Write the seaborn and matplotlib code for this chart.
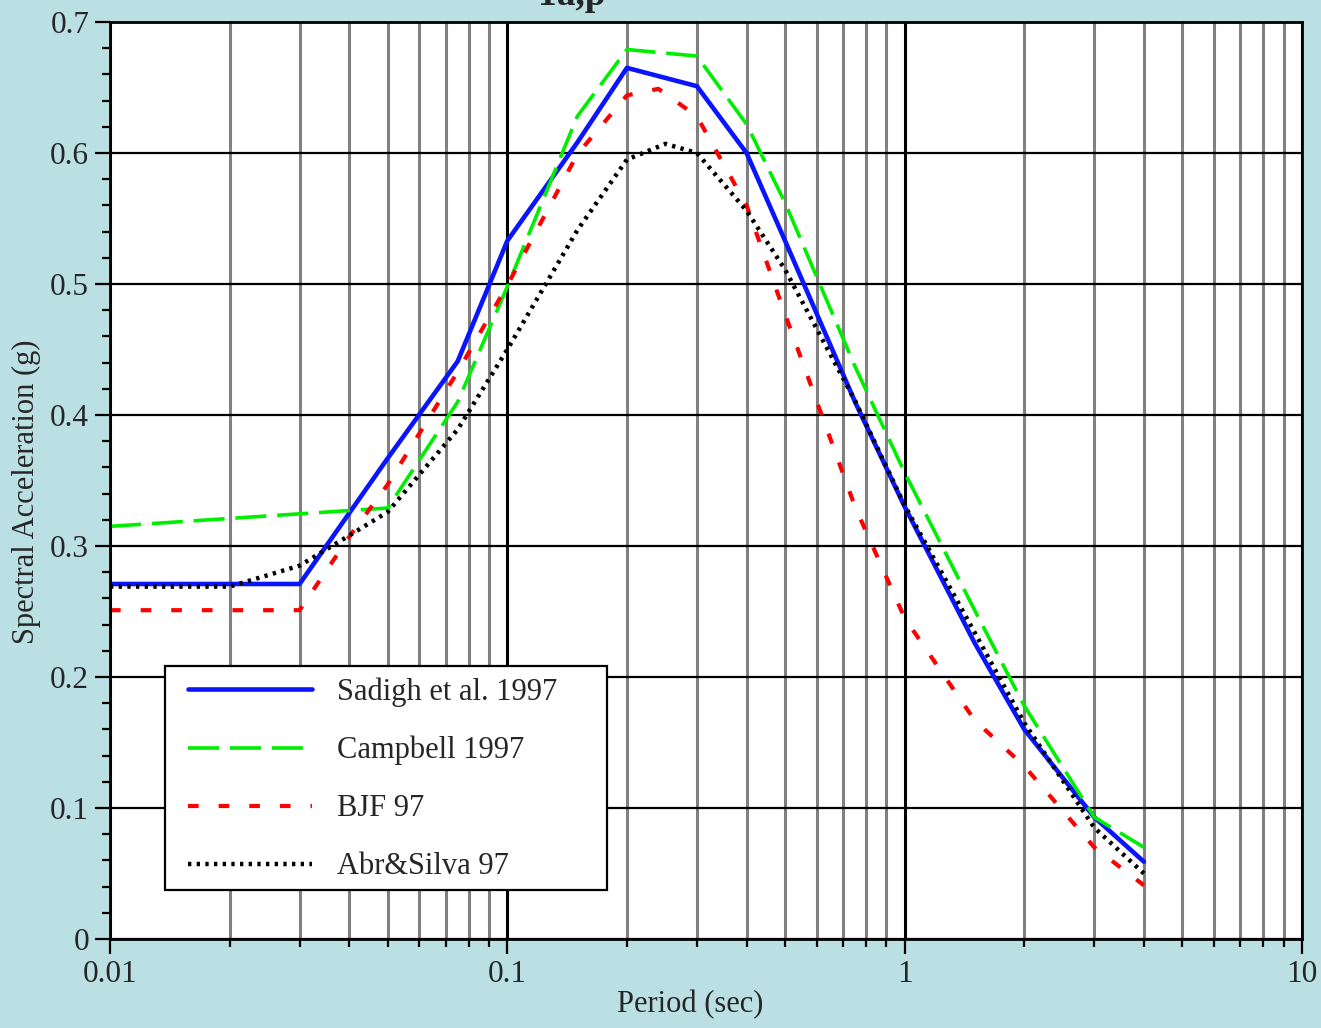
import numpy as np
import pandas as pd
import matplotlib
matplotlib.use("Agg")
import matplotlib.pyplot as plt
import seaborn as sns
from matplotlib.patches import Rectangle
from matplotlib.ticker import LogLocator, MultipleLocator, NullFormatter

# ---------------- data ----------------
period_sadigh = [0.01, 0.02, 0.03, 0.05, 0.075, 0.1, 0.15, 0.2, 0.3, 0.4, 0.5, 0.75, 1.0, 1.5, 2.0, 3.0, 4.0]
sa_sadigh = [0.271, 0.271, 0.271, 0.367, 0.441, 0.533, 0.608, 0.665, 0.651, 0.600, 0.533, 0.410, 0.330, 0.226, 0.160, 0.093, 0.059]

period_campbell = [0.01, 0.05, 0.075, 0.1, 0.15, 0.2, 0.3, 0.4, 0.5, 0.75, 1.0, 1.5, 2.0, 3.0, 4.0]
sa_campbell = [0.315, 0.329, 0.410, 0.498, 0.628, 0.679, 0.674, 0.622, 0.562, 0.437, 0.356, 0.251, 0.178, 0.093, 0.070]

period_bjf = [0.01, 0.02, 0.03, 0.04, 0.05, 0.075, 0.1, 0.15, 0.2, 0.24, 0.3, 0.4, 0.5, 0.75, 1.0, 1.5, 2.0, 3.0, 4.0]
sa_bjf = [0.251, 0.251, 0.251, 0.307, 0.347, 0.433, 0.499, 0.599, 0.644, 0.649, 0.628, 0.560, 0.477, 0.330, 0.245, 0.167, 0.132, 0.070, 0.041]

period_as = [0.01, 0.02, 0.03, 0.04, 0.05, 0.075, 0.1, 0.15, 0.2, 0.25, 0.3, 0.4, 0.5, 0.75, 1.0, 1.5, 2.0, 3.0, 4.0]
sa_as = [0.269, 0.269, 0.285, 0.308, 0.326, 0.389, 0.450, 0.541, 0.595, 0.607, 0.600, 0.556, 0.511, 0.411, 0.331, 0.234, 0.165, 0.085, 0.050]

series_labels = ["Sadigh et al. 1997", "Campbell 1997", "BJF 97", "Abr&Silva 97"]
x_tick_values = [0.01, 0.1, 1, 10]
x_tick_labels = ["0.01", "0.1", "1", "10"]
y_tick_values = [0, 0.1, 0.2, 0.3, 0.4, 0.5, 0.6, 0.7]
y_tick_labels = ["0", "0.1", "0.2", "0.3", "0.4", "0.5", "0.6", "0.7"]
title_text = "1a,p"
x_label = "Period (sec)"
y_label = "Spectral Acceleration (g)"

# ---------------- style ----------------
sns.set_style("white")
plt.rcParams['font.family'] = ['Liberation Serif', 'DejaVu Serif']

BG = '#bbe0e3'
W, H = 1321, 1028
fig = plt.figure(figsize=(W / 100, H / 100), dpi=100, facecolor=BG)
L, R, T, B = 110, 1302, 22, 939
ax = fig.add_axes([L / W, 1 - B / H, (R - L) / W, (B - T) / H])
ax.set_facecolor('white')
ax.set_xscale('log')

styles = [
    dict(color='#0a14ff', linewidth=3.3, linestyle='-', solid_capstyle='round'),
    dict(color='#00ee00', linewidth=2.6, linestyle=(0, (8.6, 3.0))),
    dict(color='#ff0000', linewidth=3.0, linestyle=(0, (2.55, 4.8))),
    dict(color='black', linewidth=3.2, linestyle=(0, (0.75, 1.2))),
]
datasets = [(period_sadigh, sa_sadigh), (period_campbell, sa_campbell),
            (period_bjf, sa_bjf), (period_as, sa_as)]

for (per, sa), lab, st in zip(datasets, series_labels, styles):
    df = pd.DataFrame({'Period': per, 'Sa': sa})
    sns.lineplot(data=df, x='Period', y='Sa', ax=ax, label=lab,
                 estimator=None, sort=False, zorder=3, **st)

ax.set_xlim(0.01, 10)
ax.set_ylim(0, 0.7)

ax.set_xticks(x_tick_values)
ax.set_xticklabels(x_tick_labels)
ax.xaxis.set_minor_locator(LogLocator(base=10, subs=np.arange(2, 10)))
ax.xaxis.set_minor_formatter(NullFormatter())
ax.set_yticks(y_tick_values)
ax.set_yticklabels(y_tick_labels)
ax.yaxis.set_minor_locator(MultipleLocator(0.02))

ax.set_axisbelow(True)
ax.grid(which='minor', axis='x', color='#808080', linewidth=2.2)
ax.grid(which='major', axis='x', color='black', linewidth=2.2)
ax.grid(which='major', axis='y', color='black', linewidth=1.6)

ax.tick_params(which='both', bottom=True, left=True, top=False, right=False,
               direction='out', color='black')
ax.tick_params(which='major', length=11, width=1.6, labelsize=22.5, pad=4)
ax.tick_params(which='minor', length=6, width=1.6)

for sp in ax.spines.values():
    sp.set_visible(True)
    sp.set_color('black')
    sp.set_linewidth(2.0)
    sp.set_zorder(4)

ax.set_xlabel(x_label, fontsize=22)
ax.set_ylabel(y_label, fontsize=22)
ax.xaxis.set_label_coords((690 - L) / (R - L), (B - 990) / (B - T))
ax.yaxis.set_label_coords((41 - L) / (R - L), (B - 492) / (B - T))

# legend frame box (pixel extents from the reference)
fx0, fx1, fy0, fy1 = 165, 607, 666, 890
ax.add_patch(Rectangle(((fx0 - L) / (R - L), (B - fy1) / (B - T)),
                       (fx1 - fx0) / (R - L), (fy1 - fy0) / (B - T),
                       transform=ax.transAxes, facecolor='white', edgecolor='black',
                       linewidth=1.6, zorder=4.5, clip_on=False))

lx0, ly_top = 176, 665
leg = ax.legend(loc='upper left',
                bbox_to_anchor=((lx0 - L) / (R - L), (B - ly_top) / (B - T)),
                fontsize=22, handlelength=4.05, handletextpad=0.82,
                labelspacing=0.95, borderpad=0.4, frameon=False, borderaxespad=0)
leg.set_zorder(5)

fig.text(606 / W, 1 - 5 / H, title_text, ha='right', va='baseline',
         fontsize=27, fontweight='bold')

fig.savefig('out.png', dpi=100, facecolor=BG)
